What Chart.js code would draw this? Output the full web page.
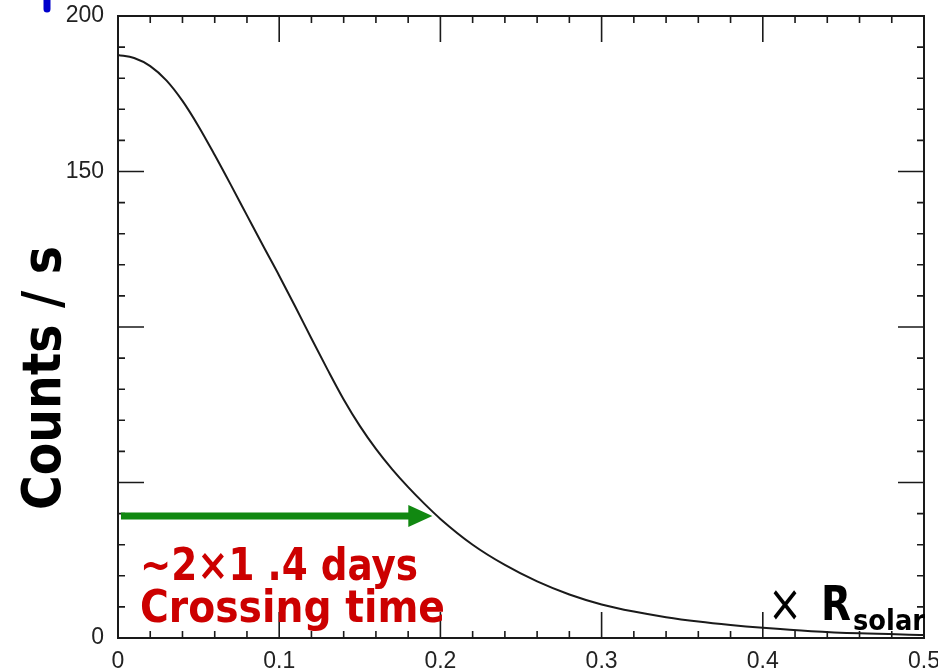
<!DOCTYPE html>
<html>
<head>
<meta charset="utf-8">
<script src="https://cdn.jsdelivr.net/npm/chart.js@4.4.1/dist/chart.umd.min.js"></script>
<style>
    html, body { margin: 0; padding: 0; background: #fff; }
    #wrap { width: 938px; height: 672px; }
</style>
</head>
<body>
<div id="wrap"><canvas id="countsChart" width="938" height="672"></canvas></div>
<script>
// Curve: radius (in R_solar) vs counts per second
const radiusValues = [0, 0.01, 0.02, 0.03, 0.04, 0.05, 0.06, 0.07, 0.08, 0.09,
    0.10, 0.11, 0.12, 0.13, 0.14, 0.15, 0.16, 0.17, 0.18, 0.19,
    0.20, 0.22, 0.24, 0.26, 0.28, 0.30, 0.32, 0.34, 0.36, 0.38,
    0.40, 0.43, 0.46, 0.50];
const countRates = [187.5, 186.5, 183.9, 179.3, 172.7, 164.5, 155.3, 145.7, 135.9, 126.1,
    116.5, 106.5, 96.3, 86.3, 76.7, 68.2, 60.8, 54.3, 48.5, 43.2,
    38.3, 30.0, 23.5, 18.2, 14.0, 10.8, 8.5, 6.7, 5.3, 4.2,
    3.3, 2.2, 1.5, 1.0];

// Axis ranges and which y ticks carry a label
const xRange = [0, 0.5];
const yRange = [0, 200];
const yLabelledTicks = [0, 150, 200];

// Green arrow: level and end point in data units
const arrowLevel = 39.2;
const arrowEnd = 0.195;

// Annotation texts
const yTitle = 'Counts / s';
const crossingLines = ['~2\u00d71 .4 days', 'Crossing time'];

let countsChart = null;

// draws text squeezed/stretched to a given width
function fitText(ctx, text, x, y, width) {
    const w = ctx.measureText(text).width;
    ctx.save();
    ctx.translate(x, y);
    ctx.scale(width / w, 1);
    ctx.fillText(text, 0, 0);
    ctx.restore();
}

const framePlugin = {
    id: 'framePlugin',
    afterDraw(chart) {
        const ctx = chart.ctx;
        const area = chart.chartArea;
        const xs = chart.scales.x;
        const ys = chart.scales.y;
        ctx.save();

        // box round the plot
        ctx.strokeStyle = '#1a1a1a';
        ctx.lineWidth = 2;
        ctx.strokeRect(area.left, area.top, area.right - area.left, area.bottom - area.top);

        // inward ticks on all four sides
        ctx.lineWidth = 1.6;
        ctx.beginPath();
        for (let i = 0; i <= 25; i++) {
            const px = xs.getPixelForValue(i * 0.02);
            const len = (i % 5 === 0) ? 26 : 7;
            ctx.moveTo(px, area.bottom); ctx.lineTo(px, area.bottom - len);
            ctx.moveTo(px, area.top); ctx.lineTo(px, area.top + len);
        }
        for (let i = 0; i <= 20; i++) {
            const py = ys.getPixelForValue(i * 10);
            const len = (i % 5 === 0) ? 26 : 7;
            ctx.moveTo(area.left, py); ctx.lineTo(area.left + len, py);
            ctx.moveTo(area.right, py); ctx.lineTo(area.right - len, py);
        }
        ctx.stroke();

        // green arrow
        const ay = ys.getPixelForValue(arrowLevel);
        const ax0 = xs.getPixelForValue(0) + 3;
        const ax1 = xs.getPixelForValue(arrowEnd);
        ctx.strokeStyle = '#118811';
        ctx.fillStyle = '#118811';
        ctx.lineWidth = 7;
        ctx.beginPath();
        ctx.moveTo(ax0, ay); ctx.lineTo(ax1 - 20, ay);
        ctx.stroke();
        ctx.beginPath();
        ctx.moveTo(ax1 - 24, ay - 11);
        ctx.lineTo(ax1, ay);
        ctx.lineTo(ax1 - 24, ay + 11);
        ctx.closePath();
        ctx.fill();

        // red annotation
        ctx.fillStyle = '#cc0000';
        ctx.font = 'bold 44px "DejaVu Sans"';
        ctx.textBaseline = 'alphabetic';
        ctx.textAlign = 'left';
        fitText(ctx, crossingLines[0], area.left + 22, 580, 278);
        fitText(ctx, crossingLines[1], area.left + 22, 622, 305);

        // x R_solar
        ctx.fillStyle = '#000';
        ctx.font = '52px "DejaVu Sans"';
        fitText(ctx, '\u00d7', 768, 621, 34);
        ctx.font = 'bold 48px "DejaVu Sans"';
        fitText(ctx, 'R', 821, 620, 30);
        ctx.font = 'bold 28px "DejaVu Sans"';
        fitText(ctx, 'solar', 853, 630, 72);

        // y axis title, reads upward
        ctx.save();
        ctx.translate(60, 510);
        ctx.rotate(-Math.PI / 2);
        ctx.font = 'bold 54px "DejaVu Sans"';
        fitText(ctx, yTitle, 0, 0, 264);
        ctx.restore();

        // blue stub at top-left corner (cut off text in the original)
        ctx.strokeStyle = '#0000cc';
        ctx.lineWidth = 7;
        ctx.lineCap = 'round';
        ctx.beginPath();
        ctx.moveTo(47, -6); ctx.lineTo(47, 9);
        ctx.stroke();

        ctx.restore();
    }
};

function initializeChart() {
    if (countsChart) return;
    const canvas = document.getElementById('countsChart');
    const points = radiusValues.map((r, i) => ({ x: r, y: countRates[i] }));

    countsChart = new Chart(canvas.getContext('2d'), {
        type: 'line',
        data: {
            datasets: [{
                label: 'Counts / s',
                data: points,
                borderColor: '#1a1a1a',
                borderWidth: 2,
                pointRadius: 0,
                fill: false,
                cubicInterpolationMode: 'monotone'
            }]
        },
        options: {
            responsive: false,
            devicePixelRatio: 1,
            animation: { duration: 0 },
            layout: { padding: { top: 16, right: 14, left: 0, bottom: 0 } },
            plugins: {
                legend: { display: false },
                tooltip: { enabled: false }
            },
            scales: {
                x: {
                    type: 'linear',
                    min: xRange[0],
                    max: xRange[1],
                    grid: { display: false, drawTicks: false },
                    border: { display: false },
                    afterFit(scale) {
                        scale.height = 34;
                        scale.paddingLeft = 0;
                        scale.paddingRight = 0;
                    },
                    ticks: {
                        stepSize: 0.1,
                        padding: 10,
                        color: '#222',
                        font: { family: '"Liberation Sans"', size: 23 },
                        callback: (v) => v === 0 ? '0' : Number(v).toFixed(1)
                    }
                },
                y: {
                    type: 'linear',
                    min: yRange[0],
                    max: yRange[1],
                    grid: { display: false, drawTicks: false },
                    border: { display: false },
                    afterFit(scale) {
                        scale.width = 118;
                        scale.paddingTop = 0;
                        scale.paddingBottom = 0;
                    },
                    ticks: {
                        stepSize: 50,
                        padding: 14,
                        color: '#222',
                        font: { family: '"Liberation Sans"', size: 23 },
                        callback: (v) => yLabelledTicks.includes(v) ? String(v) : ''
                    }
                }
            }
        },
        plugins: [framePlugin]
    });
}

document.addEventListener('DOMContentLoaded', initializeChart);
</script>
</body>
</html>
